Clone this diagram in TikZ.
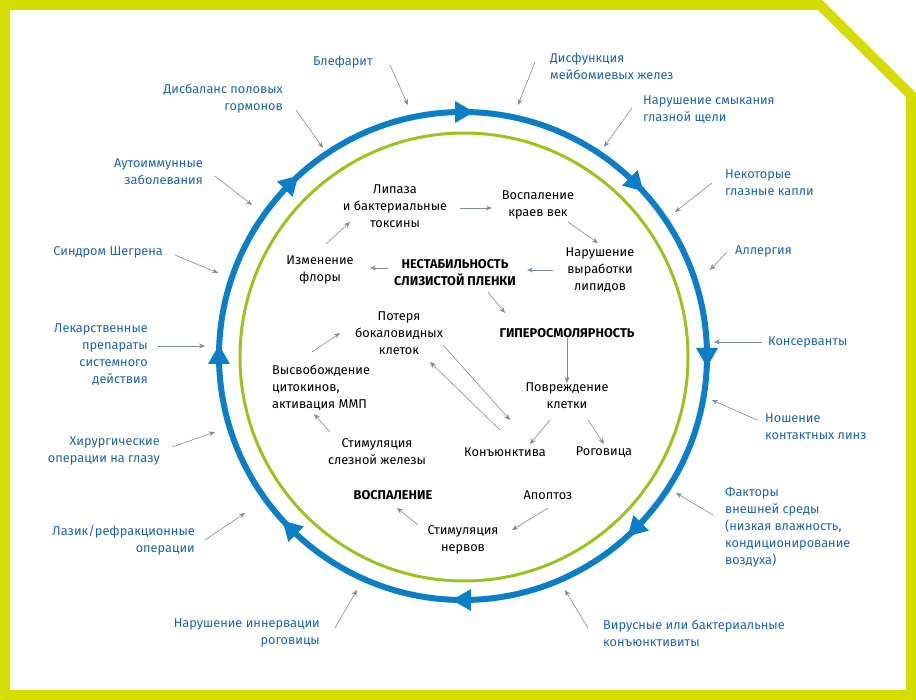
\documentclass[tikz,border=0pt]{standalone}
\usepackage{fontspec}
\setmainfont{Fira Sans}[Scale=0.98]
\usetikzlibrary{arrows.meta}
\definecolor{fr}{HTML}{D4DC00}
\definecolor{bl}{HTML}{0A7FC8}
\definecolor{gr}{HTML}{9CC31D}
\definecolor{lb}{HTML}{1F63AE}
\definecolor{ar}{HTML}{7F8C92}
\begin{document}
\begin{tikzpicture}[x=1pt,y=-1pt,
  every node/.style={font=\fontsize{13}{17}\selectfont, inner sep=0pt},
  ol/.style={text=lb},
  L/.style={ol,anchor=west,align=left},
  R/.style={ol,anchor=east,align=right},
  inn/.style={align=center,text=black},
  bd/.style={inn,font=\fontsize{13}{17}\selectfont\bfseries},
  pa/.style={draw=ar,line width=0.6pt,-{Stealth[length=6pt,width=5pt]}}]
\useasboundingbox (0,0) rectangle (916,700);
\draw[fr,line width=10pt,line join=miter] (5,5) -- (820,5) -- (911,95) -- (911,695) -- (5,695) -- cycle;
\draw[gr,line width=3pt] (464,357) circle (224);
\draw[bl,line width=6pt] (463,356) circle (244);
\foreach \a in {90,45,0,-45,-90,-135,180,135}{
  \pgfmathsetmacro\px{463+244*cos(\a)}
  \pgfmathsetmacro\py{356-244*sin(\a)}
  \pgfmathsetmacro\tx{sin(\a)}
  \pgfmathsetmacro\ty{cos(\a)}
  \fill[bl] (\px+11*\tx,\py+11*\ty) -- (\px-8*\tx+11*\ty,\py-8*\ty-11*\tx) -- (\px-8*\tx-11*\ty,\py-8*\ty+11*\tx) -- cycle;
}
% outer labels
\node[ol,align=center] (o1) at (343,62) {Блефарит};
\node[L] (o2) at (550,66) {Дисфункция\\мейбомиевых желез};
\node[L] (o3) at (643,110) {Нарушение смыкания\\глазной щели};
\node[L] (o4) at (725,183) {Некоторые\\глазные капли};
\node[L] (o5) at (735,251) {Аллергия};
\node[L] (o6) at (768,342) {Консерванты};
\node[L] (o7) at (765,427) {Ношение\\контактных линз};
\node[L] (o8) at (725,527) {Факторы\\внешней среды\\(низкая влажность,\\кондиционирование\\воздуха)};
\node[L] (o9) at (603,633) {Вирусные или бактериальные\\конъюнктивиты};
\node[R] (o10) at (320,633) {Нарушение иннервации\\роговицы};
\node[R] (o11) at (195,540) {Лазик/рефракционные\\операции};
\node[R] (o12) at (160,451) {Хирургические\\операции на глазу};
\node[R] (o13) at (148,355) {Лекарственные\\препараты\\системного\\действия};
\node[R] (o14) at (163,252) {Синдром Шегрена};
\node[R] (o15) at (203,172) {Аутоиммунные\\заболевания};
\node[R] (o16) at (283,99) {Дисбаланс половых\\гормонов};
\foreach \i/\sx/\sy/\ex/\ey in {1/390/65/408/105, 2/535/62/518/105, 3/632/108/604/147,
  4/712/183/675/212, 5/727/252/710/270, 6/762/342/714/342, 7/757/420/712/400,
  8/713/515/676/493, 9/588/628/565/590, 10/335/628/357/590, 11/205/540/245/513,
  12/172/447/215/432, 13/158/346/205/346, 14/175/255/218/273, 15/215/176/252/205,
  16/296/110/323/148}{
  \coordinate (s\i) at (\sx,\sy); \coordinate (e\i) at (\ex,\ey);
  \draw[pa] (s\i) -- (e\i);
}
% inner
\node[inn] (lip) at (395,206) {Липаза\\и бактериальные\\токсины};
\node[inn] (vos) at (538,205) {Воспаление\\краев век};
\node[inn] (nar) at (600,270) {Нарушение\\выработки\\липидов};
\node[bd] (nest) at (455,273) {НЕСТАБИЛЬНОСТЬ\\СЛИЗИСТОЙ ПЛЕНКИ};
\node[inn] (izm) at (320,270) {Изменение\\флоры};
\node[bd] (gip) at (567,333) {ГИПЕРОСМОЛЯРНОСТЬ};
\node[inn] (pov) at (567,396) {Повреждение\\клетки};
\node[inn] (kon) at (505,452) {Конъюнктива};
\node[inn] (rog) at (604,452) {Роговица};
\node[inn] (pot) at (399,333) {Потеря\\бокаловидных\\клеток};
\node[inn,anchor=west,align=left] (vys) at (272,388) {Высвобождение\\цитокинов,\\активация ММП};
\node[inn] (sti) at (377,452) {Стимуляция\\слезной железы};
\node[inn] (apo) at (548,495) {Апоптоз};
\node[inn] (stn) at (463,540) {Стимуляция\\нервов};
\node[bd] (vsp) at (393,495) {ВОСПАЛЕНИЕ};
\draw[pa] (460,208) -- (492,208);
\draw[pa] (568,222) -- (598,243);
\draw[pa] (553,270) -- (527,270);
\draw[pa] (388,268) -- (370,268);
\draw[pa] (326,244) -- (350,222);
\draw[pa] (488,292) -- (505,313);
\draw[pa] (gip) -- (pov);
\draw[pa] (550,420) -- (530,444);
\draw[pa] (588,420) -- (604,444);
\draw[pa] (443,345) -- (510,420);
\draw[pa] (500,430) -- (430,362);
\draw[pa] (312,352) -- (340,333);
\draw[pa] (330,432) -- (314,414);
\draw[pa] (548,508) -- (512,530);
\draw[pa] (418,525) -- (397,508);
\end{tikzpicture}
\end{document}
